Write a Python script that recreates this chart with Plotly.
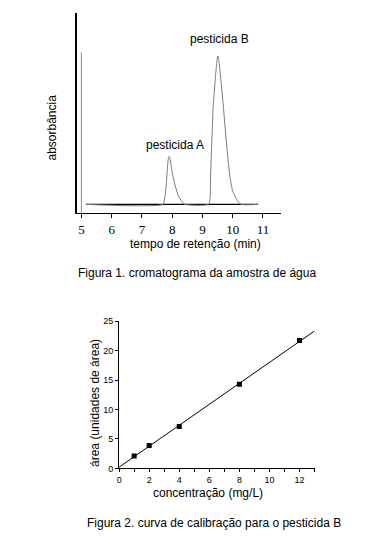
import numpy as np
import plotly.graph_objects as go

# page is 391x556; default HTML body margin is 8px, so the figure is offset by 8px
OFF = 8
W, H = 375, 540

# ---------------- Figure 1: chromatogram ----------------
tempo = [5.15, 7.69, 7.74, 7.77, 7.81, 7.84, 7.87, 7.90, 7.93, 7.98, 8.07, 8.20, 8.33, 8.42,
         9.20, 9.25, 9.27, 9.31, 9.35, 9.43, 9.48, 9.51, 9.54, 9.60, 9.70, 9.79, 9.90, 10.00,
         10.17, 10.28, 10.84]
absorbancia = [0, 0, 3, 6, 15, 24, 30.5, 32.4, 30.5, 24, 15, 6, 1.8, 0,
               0, 4, 20, 42, 64, 86, 97, 100, 97, 86, 64, 42, 20, 9,
               2, 0, 0]
solvente_t = [5.0, 5.0]
solvente_abs = [-6, 102.6]
linha_base_t = [5.15, 10.84]
linha_base_abs = [0, 0]
tempo_ticks = [5, 6, 7, 8, 9, 10, 11]
picos_rotulos = ["pesticida A", "pesticida B"]

# ---------------- Figure 2: calibration curve ----------------
concentracao = [1, 2, 4, 8, 12]
area = [2.1, 3.9, 7.1, 14.3, 21.7]
conc_ticks = [0, 2, 4, 6, 8, 10, 12]
conc_minor = [1, 3, 5, 7, 9, 11, 13]
area_ticks = [0, 5, 10, 15, 20, 25]

slope, intercept = np.polyfit(concentracao, area, 1)
fit_x = np.array([0.0, 13.0])
fit_y = slope * fit_x + intercept

SANS = "Liberation Sans, Arial, sans-serif"
SERIF = "Liberation Serif, Times New Roman, serif"


def px(x, y):
    return (x - OFF) / W, 1 - (y - OFF) / H


fig = go.Figure()

fig.add_trace(go.Scatter(x=solvente_t, y=solvente_abs, mode="lines",
                         line=dict(color="#8a8a8a", width=1), xaxis="x", yaxis="y"))
fig.add_trace(go.Scatter(x=linha_base_t, y=linha_base_abs, mode="lines",
                         line=dict(color="black", width=1.3), xaxis="x", yaxis="y"))
fig.add_trace(go.Scatter(x=tempo, y=absorbancia, mode="lines",
                         line=dict(color="#7a7a7a", width=1, shape="spline", smoothing=0.6),
                         xaxis="x", yaxis="y"))

fig.add_trace(go.Scatter(x=fit_x, y=fit_y, mode="lines",
                         line=dict(color="black", width=1), xaxis="x2", yaxis="y2"))
fig.add_trace(go.Scatter(x=concentracao, y=area, mode="markers",
                         marker=dict(symbol="square", size=5, color="black"),
                         xaxis="x2", yaxis="y2"))


def xdom(a, b):
    return [max(0, (a - OFF) / W), min(1, (b - OFF) / W)]


def ydom(bottom, top):
    return [max(0, 1 - (bottom - OFF) / H), min(1, 1 - (top - OFF) / H)]


annotations = []


def ann(text, x, y, size=12, angle=0):
    xx, yy = px(x, y)
    annotations.append(dict(x=xx, y=yy, xref="paper", yref="paper", text=text,
                            showarrow=False, textangle=angle,
                            font=dict(family=SANS, size=size, color="black"),
                            xanchor="center", yanchor="middle"))


for (ax_, ay_), lab in zip([(173.5, 142), (218, 34)], picos_rotulos):
    ann(lab, ax_, ay_, 12)

ann("absorbância", 49, 125, 12, -90)
ann("tempo de retenção (min)", 194, 243, 12)
ann("Figura 1. cromatograma da amostra de água", 195, 273, 12)
ann("área (unidades de área)", 92, 405, 12, -90)
ann("concentração (mg/L)", 207, 497, 12)
ann("Figura 2. curva de calibração para o pesticida B", 213, 528, 12)

fig.update_layout(
    width=W, height=H,
    margin=dict(l=0, r=0, t=0, b=0),
    paper_bgcolor="white", plot_bgcolor="white",
    showlegend=False,
    annotations=annotations,
    xaxis=dict(domain=xdom(75, 280), anchor="y", range=[4.87, 11.59], tickvals=tempo_ticks,
               ticks="outside", ticklen=4, tickcolor="black", showline=True,
               linecolor="black", linewidth=1.2, showgrid=False, zeroline=False,
               tickfont=dict(family=SERIF, size=13, color="black")),
    yaxis=dict(domain=ydom(212, 8), anchor="x", range=[-5.96, 129.1], showline=True,
               linecolor="black", linewidth=1.5, ticks="", showticklabels=False,
               showgrid=False, zeroline=False),
    xaxis2=dict(domain=xdom(117, 314), anchor="y2", range=[0, 13], tickvals=conc_ticks,
                ticks="outside", ticklen=3, tickcolor="black", showline=True,
                linecolor="black", linewidth=1, showgrid=False, zeroline=False,
                minor=dict(tickvals=conc_minor, ticks="outside", ticklen=3,
                           tickcolor="black"),
                tickfont=dict(family=SANS, size=9, color="black")),
    yaxis2=dict(domain=ydom(472, 322), anchor="x2", range=[0, 25], tickvals=area_ticks,
                ticks="outside", ticklen=3, tickcolor="black", showline=True,
                linecolor="black", linewidth=1, showgrid=False, zeroline=False,
                tickfont=dict(family=SANS, size=9, color="black")),
)

fig.write_html("out.html")
